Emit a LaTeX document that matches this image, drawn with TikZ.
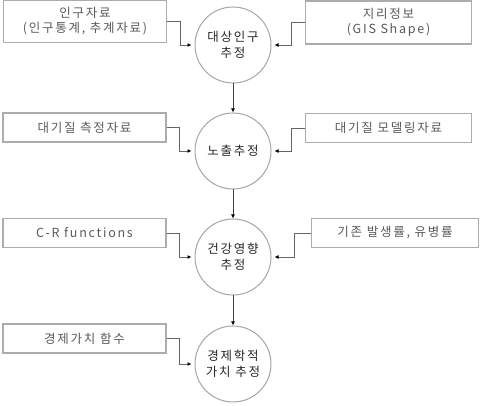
\documentclass[tikz,border=0pt]{standalone}
\usepackage{fontspec}
\setmainfont{Noto Sans CJK KR}[LetterSpace=14]
\usetikzlibrary{arrows.meta}
\tikzset{
  inbox/.style={draw=gray!65, line width=1.8pt, fill=white, text=black!65,
    inner sep=0pt, align=center, font=\fontsize{12.5}{15}\selectfont},
  stage/.style={circle, draw=gray!70, line width=1pt, minimum size=76pt,
    inner sep=0pt, align=center, text=black!85, font=\fontsize{12.5}{16}\selectfont},
  feed/.style={draw=gray!80!black, line width=0.9pt, -{Latex[length=4pt,width=4pt,black]}, shorten >=3pt},
  flow/.style={draw=black!75, line width=0.9pt, -{Latex[length=4pt,width=4pt,black]}}
}
\begin{document}
\begin{tikzpicture}[x=1pt,y=-1pt]
\useasboundingbox (0,0) rectangle (480,406);
% circles
\node[stage] (c1) at (233,45) {대상인구\\추정};
\node[stage] (c2) at (233,151) {노출추정};
\node[stage] (c3) at (233,257) {건강영향\\추정};
\node[stage] (c4) at (233,364) {경제학적\\가치 추정};
% boxes
\node[inbox, minimum width=163pt, minimum height=42pt] (b1) at (85,21.5) {인구자료\\(인구통계, 추계자료)};
\node[inbox, minimum width=166pt, minimum height=43pt] (b2) at (388.5,22.5) {지리정보\\(GIS Shape)};
\node[inbox, minimum width=163pt, minimum height=29pt] (b3) at (84.5,127.5) {대기질 측정자료};
\node[inbox, minimum width=166pt, minimum height=29pt] (b4) at (388.5,128) {대기질 모델링자료};
\node[inbox, minimum width=163pt, minimum height=29pt] (b5) at (84.5,233) {C-R functions};
\node[inbox, minimum width=167pt, minimum height=29pt] (b6) at (395,233) {기존 발생률, 유병률};
\node[inbox, minimum width=163pt, minimum height=29pt] (b7) at (84.5,338.5) {경제가치 함수};
% feeds
\draw[feed] (b1.east) -- ++(13,0) |- (c1.west);
\draw[feed] (b2.west) -- ++(-13,0) |- (c1.east);
\draw[feed] (b3.east) -- ++(13,0) |- (c2.west);
\draw[feed] (b4.west) -- ++(-13,0) |- (c2.east);
\draw[feed] (b5.east) -- ++(13,0) |- (c3.west);
\draw[feed] (b6.west) -- ++(-16,0) |- (c3.east);
\draw[feed] (b7.east) -- ++(13,0) |- (c4.west);
% flow
\draw[flow] (c1.south) -- (c2.north);
\draw[flow] (c2.south) -- (c3.north);
\draw[flow] (c3.south) -- (c4.north);
\end{tikzpicture}
\end{document}
